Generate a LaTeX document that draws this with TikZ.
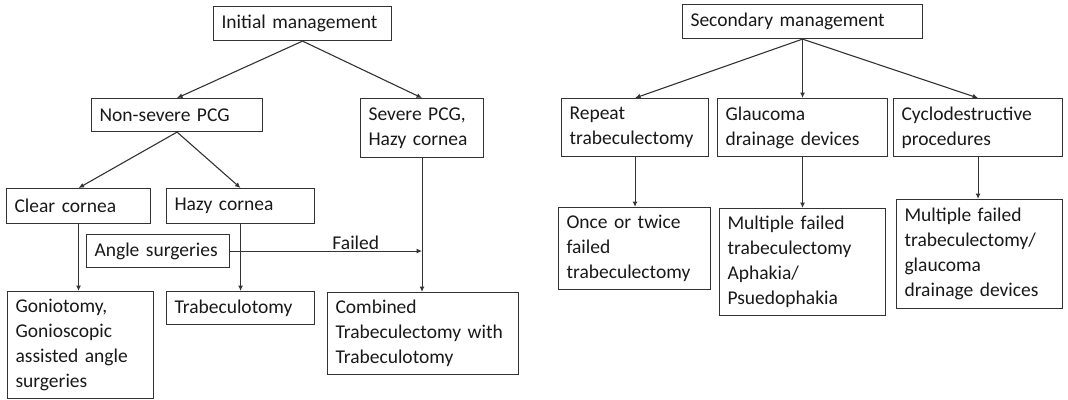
\documentclass[tikz,border=0pt]{standalone}
\usepackage{fontspec}
\setmainfont{Carlito}
\usetikzlibrary{arrows.meta}

\begin{document}
\begin{tikzpicture}[x=1pt, y=-1pt,
    bx/.style={draw=black!80, line width=1.1pt, anchor=north west, align=left,
        inner xsep=8pt, inner ysep=0pt, text=black!90,
        font=\fontsize{19.5}{25}\selectfont},
    arr/.style={draw=black!80, line width=1.1pt, -{Latex[length=5.5pt,width=5pt]}}]
    \useasboundingbox (0,0) rectangle (1068,399);

    % initial management
    \node[bx, minimum width=178pt, minimum height=34pt, text width=162pt] (init) at (213,6) {Initial management};
    \node[bx, minimum width=171pt, minimum height=33pt, text width=155pt] (nonsev) at (91,98) {Non-severe PCG};
    \node[bx, minimum width=123pt, minimum height=59pt, text width=107pt] (severe) at (360,98) {Severe PCG,\\Hazy cornea};
    \node[bx, minimum width=144pt, minimum height=35pt, text width=128pt] (clear) at (6,188) {Clear cornea};
    \node[bx, minimum width=148pt, minimum height=35pt, text width=132pt] (hazy) at (166,188) {Hazy cornea};
    \node[bx, minimum width=143pt, minimum height=33pt, text width=127pt] (angle) at (86,234) {Angle surgeries};
    \node[bx, minimum width=146pt, minimum height=107pt, text width=130pt] (gonio) at (7,291) {Goniotomy,\\Gonioscopic\\assisted angle\\surgeries};
    \node[bx, minimum width=148pt, minimum height=33pt, text width=132pt] (trabot) at (166,291) {Trabeculotomy};
    \node[bx, minimum width=191pt, minimum height=82pt, text width=175pt] (comb) at (327,292) {Combined\\Trabeculectomy with\\Trabeculotomy};

    \draw[arr] (init.south) -- (nonsev.north);
    \draw[arr] (init.south) -- (severe.north);
    \draw[arr] (nonsev.south) -- (clear.north);
    \draw[arr] (nonsev.south) -- (hazy.north);
    \draw[arr] (clear.south) -- (clear.south |- gonio.north);
    \draw[arr] (hazy.south) -- (hazy.south |- trabot.north);
    \draw[arr] (severe.south) -- (severe.south |- comb.north);
    \draw[arr] (angle.east) -- (angle.east -| severe.south)
        node[pos=0.655, above, inner sep=1pt, text=black!90, font=\fontsize{19.5}{25}\selectfont] (failed) {Failed};

    % secondary management
    \node[bx, minimum width=240pt, minimum height=34pt, text width=224pt] (second) at (682,4) {Secondary management};
    \node[bx, minimum width=147pt, minimum height=58pt, text width=131pt] (repeat) at (561,98) {Repeat\\trabeculectomy};
    \node[bx, minimum width=170pt, minimum height=58pt, text width=154pt] (gdd) at (717,98) {Glaucoma\\drainage devices};
    \node[bx, minimum width=169pt, minimum height=58pt, text width=153pt] (cyclo) at (893,98) {Cyclodestructive\\procedures};
    \node[bx, minimum width=152pt, minimum height=82pt, text width=136pt] (once) at (558,207) {Once or twice\\failed\\trabeculectomy};
    \node[bx, minimum width=166pt, minimum height=107pt, text width=150pt] (multi) at (719,208) {Multiple failed\\trabeculectomy\\Aphakia/\\Psuedophakia};
    \node[bx, minimum width=166pt, minimum height=109pt, text width=150pt] (multitwo) at (896,199) {Multiple failed\\trabeculectomy/\\glaucoma\\drainage devices};

    \draw[arr] (second.south) -- (repeat.north);
    \draw[arr] (second.south) -- (gdd.north);
    \draw[arr] (second.south) -- (cyclo.north);
    \draw[arr] (repeat.south) -- (repeat.south |- once.north);
    \draw[arr] (gdd.south) -- (gdd.south |- multi.north);
    \draw[arr] (cyclo.south) -- (cyclo.south |- multitwo.north);
\end{tikzpicture}
\end{document}
